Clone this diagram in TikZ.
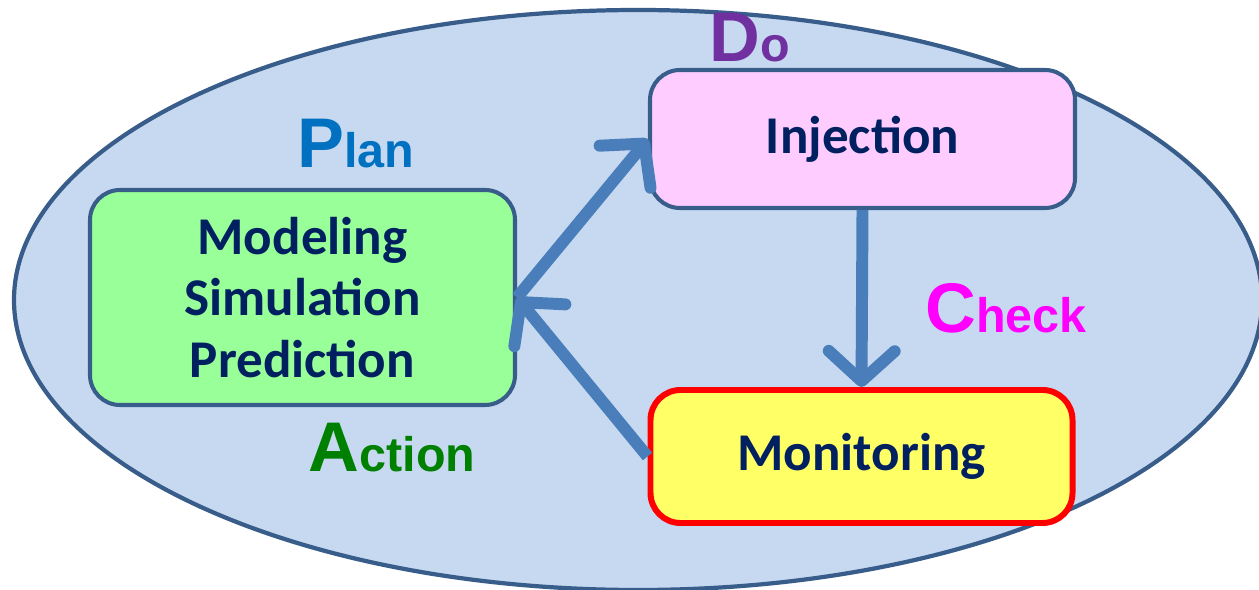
\documentclass[tikz,border=0pt]{standalone}
\usepackage{fontspec}
\setmainfont{Carlito}
\newfontfamily\labelfont{Liberation Sans}
\usetikzlibrary{arrows.meta}
\definecolor{ringblue}{HTML}{385D8A}
\definecolor{ringfill}{HTML}{C6D9F1}
\definecolor{arrowblue}{HTML}{4A7EBB}
\definecolor{boxtext}{HTML}{002060}
\definecolor{plancol}{HTML}{0070C0}
\definecolor{docol}{HTML}{7030A0}
\definecolor{checkcol}{HTML}{FF00FF}
\definecolor{actcol}{HTML}{008000}
\newcommand{\bigfirst}[2]{{\labelfont\bfseries\fontsize{20pt}{20pt}\selectfont #1}{\labelfont\bfseries\fontsize{13.8pt}{13.8pt}\selectfont #2}}
\begin{document}
\begin{tikzpicture}[
  stage/.style={draw=ringblue, line width=1.15pt, rounded corners=0.3cm, minimum width=4.25cm,
    text=boxtext, font=\bfseries\fontsize{15.1pt}{17.6pt}\selectfont, align=center},
  cyc/.style={arrowblue, line width=3.4pt, -{Straight Barb[length=0.3cm, width=0.66cm, round]}},
  pdca/.style={anchor=base}
]
  \useasboundingbox (0,0) rectangle (12.59,5.89);

  % outer ring
  \draw[ringblue, fill=ringfill, line width=1.2pt] (6.38,2.89) ellipse [x radius=6.24cm, y radius=2.90cm];

  % the four stages
  \node[stage, fill=green!40, minimum height=2.15cm] (plan) at (3.025,2.915) {Modeling\\Simulation\\Prediction};
  \node[stage, fill={rgb,255:red,255;green,204;blue,255}, minimum height=1.38cm] (inj) at (8.625,4.50) {Injection};
  \node[stage, draw=red, line width=1.7pt, fill={rgb,255:red,255;green,255;blue,102}, minimum width=4.22cm,
    minimum height=1.33cm] (mon) at (8.615,1.325) {Monitoring};

  % cycle arrows
  \draw[cyc] (plan.east) -- (inj.west);
  \draw[cyc] (inj.south) -- (mon.north);
  \draw[cyc] (mon.west) -- (plan.east);

  % PDCA labels
  \node[pdca, text=plancol] (lplan) at (3.56,4.21) {\bigfirst{P}{lan}};
  \node[pdca, text=docol] (ldo) at (7.50,5.27) {\bigfirst{D}{o}};
  \node[pdca, text=checkcol] (lcheck) at (10.06,2.56) {\bigfirst{C}{heck}};
  \node[pdca, text=actcol] (lact) at (3.92,1.17) {\bigfirst{A}{ction}};
\end{tikzpicture}
\end{document}
